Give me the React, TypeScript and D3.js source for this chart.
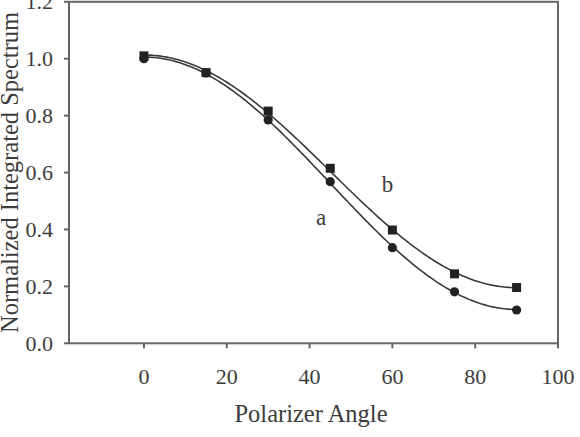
import { useEffect, useRef } from 'react'
import * as d3 from 'd3'

// polarizer angle (degrees) and normalized integrated spectrum for each sample
const angles = [0, 15, 30, 45, 60, 75, 90]
const seriesA = [1.0, 0.95, 0.785, 0.568, 0.336, 0.181, 0.117]
const seriesB = [1.01, 0.951, 0.816, 0.615, 0.398, 0.244, 0.196]
const xTicks = [0, 20, 40, 60, 80, 100]
const yTicks = [0, 0.2, 0.4, 0.6, 0.8, 1.0, 1.2]

// least squares fit of y = A cos^2(theta) + B
function fitCos2(xs: number[], ys: number[]) {
  const c = xs.map(x => Math.cos((x * Math.PI) / 180) ** 2)
  const mc = d3.mean(c) as number
  const my = d3.mean(ys) as number
  let num = 0
  let den = 0
  c.forEach((ci, i) => {
    num += (ci - mc) * (ys[i] - my)
    den += (ci - mc) ** 2
  })
  const A = num / den
  const B = my - A * mc
  return (x: number) => A * Math.cos((x * Math.PI) / 180) ** 2 + B
}

export default function App() {
  const svgRef = useRef<SVGSVGElement>(null)

  useEffect(() => {
    if (!svgRef.current) return
    document.body.style.margin = '0'

    const svg = d3.select(svgRef.current)
    svg.selectAll('*').remove()

    const left = 69
    const right = 558
    const top = 1.8
    const bottom = 343.3
    const font = '"Liberation Serif", "Times New Roman", serif'
    const ink = '#3c3c3c'
    const axisColor = '#666'

    const x = d3.scaleLinear().domain([-18.1, 100]).range([left, right])
    const y = d3.scaleLinear().domain([0, 1.2]).range([bottom, top])

    const g = svg.append('g')

    // frame
    g.append('rect')
      .attr('x', left)
      .attr('y', top)
      .attr('width', right - left)
      .attr('height', bottom - top)
      .attr('fill', 'none')
      .attr('stroke', axisColor)
      .attr('stroke-width', 2)

    // x ticks
    const xt = g.append('g')
    xt.selectAll('line')
      .data(xTicks)
      .enter()
      .append('line')
      .attr('x1', d => x(d))
      .attr('x2', d => x(d))
      .attr('y1', bottom)
      .attr('y2', bottom + 5)
      .attr('stroke', axisColor)
      .attr('stroke-width', 2)
    xt.selectAll('text')
      .data(xTicks)
      .enter()
      .append('text')
      .attr('x', d => x(d))
      .attr('y', 384)
      .attr('text-anchor', 'middle')
      .style('font-family', font)
      .style('font-size', '22px')
      .style('fill', ink)
      .text(d => d.toString())

    // y ticks
    const yt = g.append('g')
    yt.selectAll('line')
      .data(yTicks)
      .enter()
      .append('line')
      .attr('x1', left - 5)
      .attr('x2', left)
      .attr('y1', d => y(d))
      .attr('y2', d => y(d))
      .attr('stroke', axisColor)
      .attr('stroke-width', 2)
    yt.selectAll('text')
      .data(yTicks)
      .enter()
      .append('text')
      .attr('x', 53)
      .attr('y', d => y(d) + 7.5)
      .attr('text-anchor', 'end')
      .style('font-family', font)
      .style('font-size', '22px')
      .style('fill', ink)
      .text(d => d3.format('.1f')(d))

    // axis titles
    g.append('text')
      .attr('x', 311)
      .attr('y', 422)
      .attr('text-anchor', 'middle')
      .style('font-family', font)
      .style('font-size', '24.5px')
      .style('fill', ink)
      .text('Polarizer Angle')

    g.append('text')
      .attr('transform', `translate(18,333) rotate(-90)`)
      .attr('text-anchor', 'start')
      .style('font-family', font)
      .style('font-size', '24.5px')
      .style('fill', ink)
      .text('Normalized Integrated Spectrum')

    // fitted curves
    const line = d3.line<number>().x(d => x(d))
    const samples = d3.range(0, 90.5, 0.5)
    ;[seriesA, seriesB].forEach(vals => {
      const f = fitCos2(angles, vals)
      g.append('path')
        .datum(samples)
        .attr('fill', 'none')
        .attr('stroke', '#3a3a3a')
        .attr('stroke-width', 1.6)
        .attr('d', line.y(d => y(f(d))))
    })

    // markers: circles for a, squares for b
    g.selectAll('.dot')
      .data(angles.map((a, i) => ({ a, v: seriesA[i] })))
      .enter()
      .append('circle')
      .attr('class', 'dot')
      .attr('cx', d => x(d.a))
      .attr('cy', d => y(d.v))
      .attr('r', 4.6)
      .attr('fill', '#222')

    const s = 9
    g.selectAll('.sq')
      .data(angles.map((a, i) => ({ a, v: seriesB[i] })))
      .enter()
      .append('rect')
      .attr('class', 'sq')
      .attr('x', d => x(d.a) - s / 2)
      .attr('y', d => y(d.v) - s / 2)
      .attr('width', s)
      .attr('height', s)
      .attr('fill', '#222')

    // curve labels
    g.append('text')
      .attr('x', x(42.8))
      .attr('y', y(0.416))
      .attr('text-anchor', 'middle')
      .style('font-family', font)
      .style('font-size', '23px')
      .style('fill', ink)
      .text('a')
    g.append('text')
      .attr('x', x(58.8))
      .attr('y', y(0.533))
      .attr('text-anchor', 'middle')
      .style('font-family', font)
      .style('font-size', '23px')
      .style('fill', ink)
      .text('b')
  }, [])

  return (
    <svg
      ref={svgRef}
      width={580}
      height={437}
      style={{ display: 'block', background: '#fff' }}
    />
  )
}
